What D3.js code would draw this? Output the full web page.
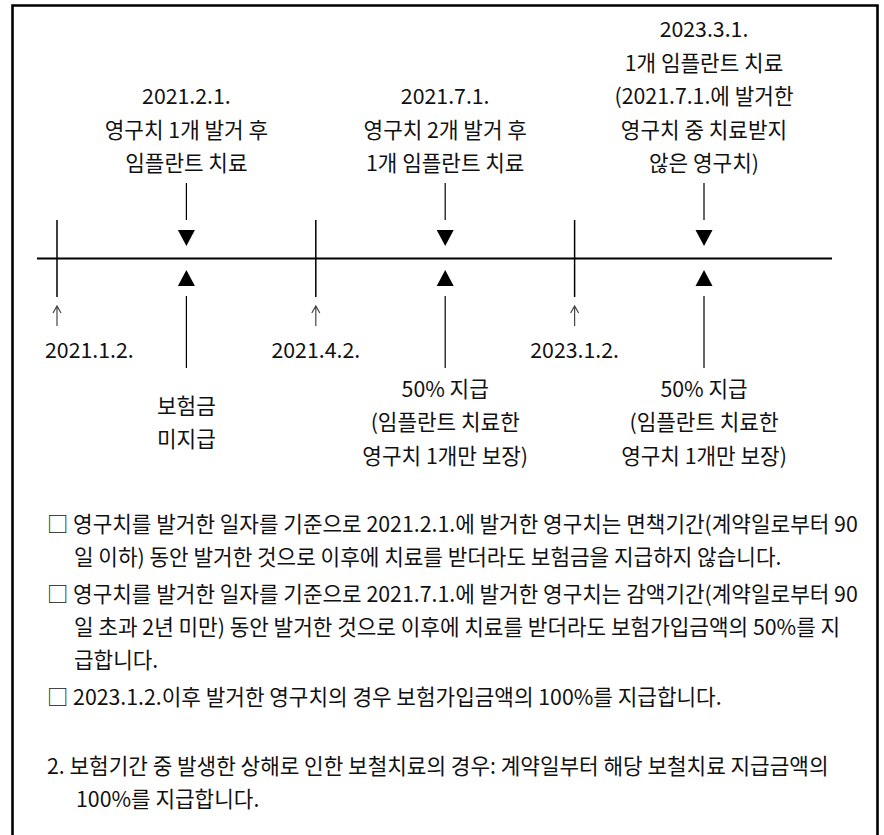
<!DOCTYPE html>
<html>
<head>
<meta charset="utf-8">
<script src="https://cdn.jsdelivr.net/npm/d3@7"></script>
<style>
  html, body { margin: 0; padding: 0; background: #fff; }
  svg text { font-family: "Noto Sans CJK KR", "Noto Sans", sans-serif; fill: #111; }
</style>
</head>
<body>
<svg id="chart" width="884" height="835"></svg>
<script>
// ---- data ----
const timelineOrder = ["2021.1.2.", "2021.2.1.", "2021.4.2.", "2021.7.1.", "2023.1.2.", "2023.3.1."];
const tickDates = ["2021.1.2.", "2021.4.2.", "2023.1.2."];
const eventDates = ["2021.2.1.", "2021.7.1.", "2023.3.1."];
const eventTopLabels = [
  ["2021.2.1.", "영구치 1개 발거 후", "임플란트 치료"],
  ["2021.7.1.", "영구치 2개 발거 후", "1개 임플란트 치료"],
  ["2023.3.1.", "1개 임플란트 치료", "(2021.7.1.에 발거한", "영구치 중 치료받지", "않은 영구치)"]
];
const eventBottomLabels = [
  ["보험금", "미지급"],
  ["50% 지급", "(임플란트 치료한", "영구치 1개만 보장)"],
  ["50% 지급", "(임플란트 치료한", "영구치 1개만 보장)"]
];
const paragraphs = [
  ["□ 영구치를 발거한 일자를 기준으로 2021.2.1.에 발거한 영구치는 면책기간(계약일로부터 90",
   "일 이하) 동안 발거한 것으로 이후에 치료를 받더라도 보험금을 지급하지 않습니다."],
  ["□ 영구치를 발거한 일자를 기준으로 2021.7.1.에 발거한 영구치는 감액기간(계약일로부터 90",
   "일 초과 2년 미만) 동안 발거한 것으로 이후에 치료를 받더라도 보험가입금액의 50%를 지",
   "급합니다."],
  ["□ 2023.1.2.이후 발거한 영구치의 경우 보험가입금액의 100%를 지급합니다."],
  ["2. 보험기간 중 발생한 상해로 인한 보철치료의 경우: 계약일부터 해당 보철치료 지급금액의",
   "100%를 지급합니다."]
];

// ---- layout ----
const svg = d3.select("#chart");
const x = d3.scalePoint().domain(timelineOrder).range([57, 704]);
const axisY = 258.5;
const fontSize = 21.3;

// frame (top, left, right)
svg.append("path")
  .attr("d", "M12.5,835 L12.5,5.5 L877.5,5.5 L877.5,835")
  .attr("fill", "none").attr("stroke", "#000").attr("stroke-width", 2.6);

// main axis line
svg.append("line")
  .attr("x1", 37).attr("x2", 832).attr("y1", axisY).attr("y2", axisY)
  .attr("stroke", "#000").attr("stroke-width", 2);

// period ticks
const tickG = svg.append("g").selectAll("g").data(tickDates).join("g")
  .attr("transform", d => `translate(${x(d)},0)`);
tickG.append("line").attr("x1", 0).attr("x2", 0).attr("y1", 220).attr("y2", 297)
  .attr("stroke", "#000").attr("stroke-width", 1.5);
tickG.append("path")
  .attr("d", "M0,307 L0,326 M-4,313 L0,306 L4,313")
  .attr("fill", "none").attr("stroke", "#444").attr("stroke-width", 1.2);
tickG.append("text")
  .attr("y", 351).attr("dy", "0.35em")
  .attr("text-anchor", (d, i) => i === 0 ? "start" : "middle")
  .attr("font-size", fontSize)
  .attr("x", (d, i) => i === 0 ? 45 - x(d) : 0)
  .text(d => d);

// events
const evG = svg.append("g").selectAll("g").data(eventDates).join("g")
  .attr("transform", d => `translate(${x(d)},0)`);
evG.append("line").attr("x1", 0).attr("x2", 0).attr("y1", 183).attr("y2", 220)
  .attr("stroke", "#000").attr("stroke-width", 1.2);
evG.append("path").attr("d", "M-8.5,230 L8.5,230 L0,246 Z").attr("fill", "#000");
evG.append("path").attr("d", "M0,270 L8.5,286 L-8.5,286 Z").attr("fill", "#000");
evG.append("line").attr("x1", 0).attr("x2", 0).attr("y1", 296).attr("y2", 368)
  .attr("stroke", "#000").attr("stroke-width", 1.2);

const lineH = 33.5;
evG.each(function(d, i) {
  const g = d3.select(this);
  const top = eventTopLabels[i];
  const lastTop = 164;
  g.selectAll("text.top").data(top).join("text").attr("class", "top")
    .attr("x", 0).attr("y", (t, j) => lastTop - (top.length - 1 - j) * lineH)
    .attr("dy", "0.35em").attr("text-anchor", "middle").attr("font-size", fontSize)
    .text(t => t);
  const bot = eventBottomLabels[i];
  const mid = 423;
  g.selectAll("text.bot").data(bot).join("text").attr("class", "bot")
    .attr("x", 0).attr("y", (t, j) => mid + (j - (bot.length - 1) / 2) * lineH)
    .attr("dy", "0.35em").attr("text-anchor", "middle").attr("font-size", fontSize)
    .text(t => t);
});

// paragraphs
const paraStarts = [525, 595, 698, 767];
const paraLineH = 33;
paragraphs.forEach((lines, pi) => {
  svg.append("g").selectAll("text").data(lines).join("text")
    .attr("x", (t, j) => j === 0 ? 47 : (pi === 3 ? 76 : 74))
    .attr("y", (t, j) => paraStarts[pi] + j * paraLineH)
    .attr("dy", "0.35em").attr("font-size", fontSize)
    .text(t => t);
});
</script>
</body>
</html>
